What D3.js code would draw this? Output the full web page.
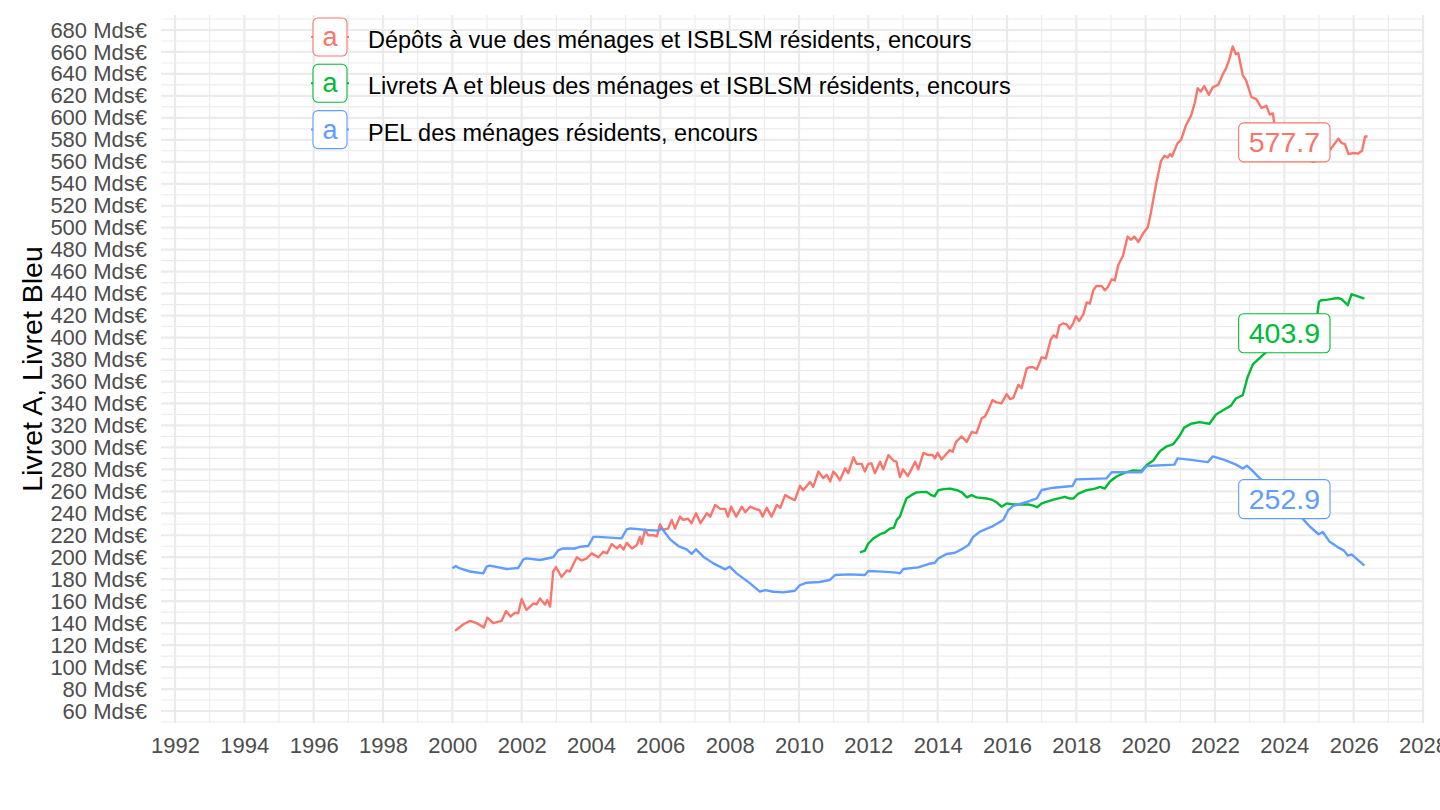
<!DOCTYPE html>
<html>
  <head>
    <meta charset="utf-8">
    <style>
      body { margin: 0; background: white; }
      text { font-family: "Liberation Sans", Arial, sans-serif; }
    </style>
  </head>
  <body>
    <script src="https://cdn.jsdelivr.net/npm/d3@7"></script>
    <script>
      // series: [year (decimal), Mds€]
      var depots = [
        [2000.08,133],[2000.32,139],[2000.51,142],[2000.70,140],[2000.91,136],[2001.01,145],[2001.18,140],
        [2001.42,142],[2001.55,151],[2001.68,146],[2001.81,149.5],[2001.90,149],[2002.00,162],[2002.14,152],
        [2002.34,158],[2002.43,157],[2002.53,162.5],[2002.67,157],[2002.74,161],[2002.82,155],[2002.91,187],
        [2002.99,191],[2003.15,182],[2003.30,188],[2003.39,187],[2003.59,200],[2003.73,197],[2003.88,199],
        [2004.02,203.5],[2004.21,200],[2004.36,205],[2004.46,203.5],[2004.60,212],[2004.75,208],[2004.84,211],
        [2004.94,207],[2005.03,213],[2005.18,208],[2005.32,211],[2005.41,218.5],[2005.46,212],[2005.56,225],
        [2005.65,220],[2005.80,220],[2005.90,219],[2005.99,230],[2006.08,225],[2006.22,226],[2006.33,234],
        [2006.42,226],[2006.57,237],[2006.66,234],[2006.80,235],[2006.90,231],[2007.03,240],[2007.16,231],
        [2007.34,240],[2007.44,237],[2007.58,247.5],[2007.73,244],[2007.87,244],[2007.95,237],[2008.04,246],
        [2008.19,237],[2008.35,246],[2008.45,241],[2008.59,246],[2008.73,244],[2008.86,243],[2008.95,237],
        [2009.07,245],[2009.21,237],[2009.36,247.5],[2009.46,245],[2009.60,256.5],[2009.74,254],[2009.88,252],
        [2010.03,265],[2010.12,261],[2010.32,268.5],[2010.41,264],[2010.56,278],[2010.70,272],[2010.80,275],
        [2010.90,269],[2010.99,278],[2011.08,275],[2011.18,270],[2011.33,281],[2011.42,276.5],[2011.57,291],
        [2011.66,285],[2011.81,285],[2011.90,278],[2012.00,285],[2012.09,285.5],[2012.19,276.5],[2012.34,287],
        [2012.43,280],[2012.58,293],[2012.72,288],[2012.81,287],[2012.91,273],[2013.00,280],[2013.14,274],
        [2013.24,280],[2013.35,287],[2013.44,280],[2013.59,295],[2013.73,293],[2013.86,293],[2013.92,290],
        [2014.00,295],[2014.11,289],[2014.25,294],[2014.35,297.5],[2014.43,296],[2014.53,305],[2014.69,310],
        [2014.84,305],[2014.98,314],[2015.12,313],[2015.27,326.5],[2015.36,328],[2015.46,334],[2015.58,343],
        [2015.70,341],[2015.84,340],[2015.99,348.5],[2016.09,344],[2016.18,345],[2016.33,357],[2016.42,354],
        [2016.57,372],[2016.66,373],[2016.76,373],[2016.86,371],[2017.00,382],[2017.12,381],[2017.26,398],
        [2017.34,402],[2017.43,400],[2017.51,411],[2017.63,413],[2017.72,412],[2017.81,408],[2017.91,413],
        [2017.99,419.5],[2018.08,415],[2018.20,421],[2018.30,432],[2018.39,431],[2018.49,443],[2018.58,447],
        [2018.73,447],[2018.82,443],[2018.91,446],[2019.02,453],[2019.11,452],[2019.21,466],[2019.34,474],
        [2019.48,492],[2019.58,489],[2019.67,492],[2019.79,487],[2019.94,495.5],[2020.06,500.5],[2020.15,513.5],
        [2020.30,539.5],[2020.44,560.5],[2020.54,565.5],[2020.63,564],[2020.70,567],[2020.76,565],[2020.92,577],
        [2021.02,580],[2021.16,593],[2021.31,602],[2021.42,614],[2021.50,627],[2021.59,624],[2021.69,629],
        [2021.82,621],[2021.94,628],[2022.09,630],[2022.23,640],[2022.32,645],[2022.41,653],[2022.51,665],
        [2022.60,658],[2022.67,659],[2022.80,639],[2022.90,634],[2023.05,619],[2023.19,617],[2023.34,609],
        [2023.48,611],[2023.58,603],[2023.67,604],[2023.71,595],[2023.85,587],[2024.00,577.7],[2024.25,570],
        [2024.55,563],[2024.84,560],[2025.05,563],[2025.32,571],[2025.56,581],[2025.66,577],[2025.75,576],
        [2025.85,567],[2026.00,568],[2026.13,567.5],[2026.24,570],[2026.33,583],[2026.40,583]
      ];

      var livrets = [
        [2011.76,204.5],[2011.90,206],[2012.00,212.5],[2012.14,217],[2012.34,221],[2012.48,222.5],[2012.62,226],
        [2012.74,227],[2012.82,234],[2012.91,237],[2013.01,246],[2013.10,253.5],[2013.24,256.5],[2013.39,259],
        [2013.68,259.5],[2013.82,256.5],[2013.91,255.5],[2014.02,261],[2014.17,262],[2014.36,262.5],[2014.56,261],
        [2014.70,259],[2014.84,254.5],[2014.98,256.5],[2015.12,254.5],[2015.41,253.5],[2015.55,252.5],[2015.70,250],
        [2015.84,246],[2015.99,249],[2016.18,248],[2016.37,248],[2016.61,248],[2016.76,247],[2016.87,245.5],
        [2017.00,249],[2017.34,252.5],[2017.67,255],[2017.80,253.5],[2017.92,253.5],[2018.06,258],[2018.30,261],
        [2018.54,262.5],[2018.68,264],[2018.82,262.5],[2018.97,269],[2019.16,273.5],[2019.40,277],[2019.64,279],
        [2019.88,278.5],[2020.03,284],[2020.22,288],[2020.41,296.5],[2020.61,301],[2020.80,303],[2020.99,311],
        [2021.11,318],[2021.31,321.5],[2021.55,323],[2021.84,321.5],[2022.03,330],[2022.27,334.5],[2022.46,338],
        [2022.60,344.5],[2022.80,347.5],[2022.94,364],[2023.09,375.5],[2023.24,380],[2023.48,387],[2023.75,393],
        [2024.00,403.9],[2024.25,407],[2024.50,410],[2024.75,411],[2024.92,413],[2025.00,432.5],[2025.06,434],
        [2025.25,434.5],[2025.54,436],[2025.65,435],[2025.83,429.5],[2025.94,439.5],[2026.12,437.5],[2026.31,435.5]
      ];

      var pel = [
        [2000.00,190],[2000.10,192],[2000.20,190],[2000.51,187],[2000.89,185.3],[2000.99,191.4],[2001.08,192.3],
        [2001.57,189.3],[2001.90,190.2],[2002.05,198],[2002.14,199],[2002.53,197.5],[2002.91,200],[2003.06,206.5],
        [2003.20,208],[2003.54,208],[2003.68,209.5],[2003.92,210.2],[2004.07,218.5],[2004.21,218.5],[2004.88,217.2],
        [2005.03,225.4],[2005.13,226.3],[2005.61,224.8],[2005.95,224.2],[2006.04,226.3],[2006.28,216.3],
        [2006.52,210.2],[2006.76,207.2],[2006.90,203],[2007.03,207.2],[2007.24,200.5],[2007.53,194.4],[2007.87,189],
        [2008.00,191.4],[2008.20,185.3],[2008.59,176.2],[2008.87,168.6],[2009.02,170.1],[2009.26,168.6],
        [2009.55,168],[2009.88,169.5],[2010.03,174.7],[2010.22,176.8],[2010.59,177.4],[2010.89,179.3],
        [2011.04,183.8],[2011.47,184.4],[2011.90,183.8],[2012.00,187.5],[2012.43,186.9],[2012.82,186],
        [2012.91,185.3],[2013.01,189.3],[2013.44,190.8],[2013.73,193.8],[2013.92,195],[2014.02,199],[2014.26,202.9],
        [2014.50,204.1],[2014.74,208.1],[2014.89,211.2],[2015.03,218.7],[2015.22,223.3],[2015.56,227.8],
        [2015.89,233.9],[2016.04,243],[2016.18,246.7],[2016.52,249.8],[2016.86,253.6],[2017.00,261.2],
        [2017.34,263.3],[2017.89,264.8],[2017.99,270.9],[2018.87,271.8],[2019.02,277.3],[2019.88,277.3],
        [2020.03,283],[2020.83,284.3],[2020.92,290],[2021.31,288.6],[2021.79,286.6],[2021.94,291.8],[2022.27,288.6],
        [2022.61,284.3],[2022.80,280.8],[2022.92,283.3],[2023.09,278.4],[2023.28,272.2],[2023.50,266],[2023.75,259.5],
        [2024.00,252.9],[2024.25,244],[2024.51,235.6],[2024.75,227.5],[2024.99,220.9],[2025.11,223],[2025.30,214.4],
        [2025.58,208.5],[2025.72,206],[2025.83,201.5],[2025.94,202.6],[2026.31,192.3]
      ];

      var seriesNames = [
        "Dépôts à vue des ménages et ISBLSM résidents, encours",
        "Livrets A et bleus des ménages et ISBLSM résidents, encours",
        "PEL des ménages résidents, encours"
      ];
      var colors = ["#F8766D", "#00BA38", "#619CFF"];

      // end labels: date and value
      var labelDate = 2024.0;
      var labelValues = [577.7, 403.9, 252.9];

      var xTicks = d3.range(1992, 2029, 2);
      var xMinor = d3.range(1993, 2028, 2);
      var yTicks = d3.range(60, 681, 20);
      var yMinor = d3.range(50, 691, 20);

      var width = 1440, height = 810;
      var panel = { left: 161, right: 1423, top: 15, bottom: 723 };

      var svg = d3.select("body").append("svg")
          .attr("width", width)
          .attr("height", height);

      var x = d3.scaleLinear()
          .domain([1991.596, 2028])
          .range([panel.left, panel.right]);

      var y = d3.scaleLinear()
          .domain([49.07, 693.66])
          .range([panel.bottom, panel.top]);

      var grid = svg.append("g");

      grid.selectAll(".ymin").data(yMinor).enter().append("line")
          .attr("x1", panel.left).attr("x2", panel.right)
          .attr("y1", function(d) { return y(d); }).attr("y2", function(d) { return y(d); })
          .attr("stroke", "#EBEBEB").attr("stroke-width", 1.1);

      grid.selectAll(".xmin").data(xMinor).enter().append("line")
          .attr("y1", panel.top).attr("y2", panel.bottom)
          .attr("x1", function(d) { return x(d); }).attr("x2", function(d) { return x(d); })
          .attr("stroke", "#EBEBEB").attr("stroke-width", 1.1);

      grid.selectAll(".ymaj").data(yTicks).enter().append("line")
          .attr("x1", panel.left).attr("x2", panel.right)
          .attr("y1", function(d) { return y(d); }).attr("y2", function(d) { return y(d); })
          .attr("stroke", "#EBEBEB").attr("stroke-width", 2.2);

      grid.selectAll(".xmaj").data(xTicks).enter().append("line")
          .attr("y1", panel.top).attr("y2", panel.bottom)
          .attr("x1", function(d) { return x(d); }).attr("x2", function(d) { return x(d); })
          .attr("stroke", "#EBEBEB").attr("stroke-width", 2.2);

      // axes
      var yAxis = svg.append("g")
          .attr("transform", "translate(" + panel.left + ",0)")
          .call(d3.axisLeft(y).tickValues(yTicks).tickSize(0).tickPadding(14)
            .tickFormat(function(d) { return d + " Mds€"; }));

      var xAxis = svg.append("g")
          .attr("transform", "translate(0," + panel.bottom + ")")
          .call(d3.axisBottom(x).tickValues(xTicks).tickSize(0).tickPadding(14)
            .tickFormat(d3.format("d")));

      [xAxis, yAxis].forEach(function(a) {
        a.select(".domain").remove();
        a.selectAll("text")
          .style("font-family", "'Liberation Sans', Arial, sans-serif")
          .style("font-size", "22px")
          .attr("fill", "#4D4D4D");
      });

      svg.append("text")
          .attr("transform", "translate(32," + ((panel.top + panel.bottom) / 2) + ") rotate(-90)")
          .attr("text-anchor", "middle")
          .attr("dominant-baseline", "central")
          .style("font-size", "28.5px")
          .attr("fill", "black")
          .text("Livret A, Livret Bleu");

      // lines
      var line = d3.line()
          .x(function(d) { return x(d[0]); })
          .y(function(d) { return y(d[1]); });

      var allSeries = [depots, livrets, pel];

      svg.append("g").selectAll("path")
          .data(allSeries)
          .enter()
          .append("path")
          .attr("d", line)
          .attr("fill", "none")
          .attr("stroke", function(d, i) { return colors[i]; })
          .attr("stroke-width", 2.4)
          .attr("stroke-linejoin", "round");

      // end labels
      var labels = svg.append("g").selectAll("g")
          .data(labelValues)
          .enter()
          .append("g")
          .attr("transform", function(d) { return "translate(" + x(labelDate) + "," + y(d) + ")"; });

      labels.append("rect");
      labels.append("text")
          .attr("text-anchor", "middle")
          .attr("dominant-baseline", "central")
          .style("font-size", "28.5px")
          .attr("fill", function(d, i) { return colors[i]; })
          .text(function(d) { return d3.format(".1f")(d); });

      labels.each(function(d, i) {
        var g = d3.select(this);
        var bb = g.select("text").node().getBBox();
        g.select("rect")
          .attr("x", bb.x - 10).attr("y", -19.5)
          .attr("width", bb.width + 20).attr("height", 39)
          .attr("rx", 5).attr("ry", 5)
          .attr("fill", "white")
          .attr("stroke", colors[i])
          .attr("stroke-width", 1.1);
      });

      // legend
      var legend = svg.append("g").selectAll("g")
          .data(seriesNames)
          .enter()
          .append("g")
          .attr("transform", function(d, i) { return "translate(330," + (37 + i * 46.3) + ")"; });

      legend.append("line")
          .attr("x1", -19).attr("x2", 19)
          .attr("stroke", function(d, i) { return colors[i]; })
          .attr("stroke-width", 2);

      legend.append("rect")
          .attr("x", -17).attr("y", -19)
          .attr("width", 34).attr("height", 38)
          .attr("rx", 5).attr("ry", 5)
          .attr("fill", "white")
          .attr("stroke", function(d, i) { return colors[i]; })
          .attr("stroke-width", 1.1);

      legend.append("text")
          .attr("text-anchor", "middle")
          .attr("dominant-baseline", "central")
          .attr("y", 0)
          .style("font-size", "27px")
          .attr("fill", function(d, i) { return colors[i]; })
          .text("a");

      legend.append("text")
          .attr("x", 38)
          .attr("y", 3)
          .attr("dominant-baseline", "central")
          .style("font-size", "23.5px")
          .attr("fill", "black")
          .text(function(d) { return d; });
    </script>
  </body>
</html>
